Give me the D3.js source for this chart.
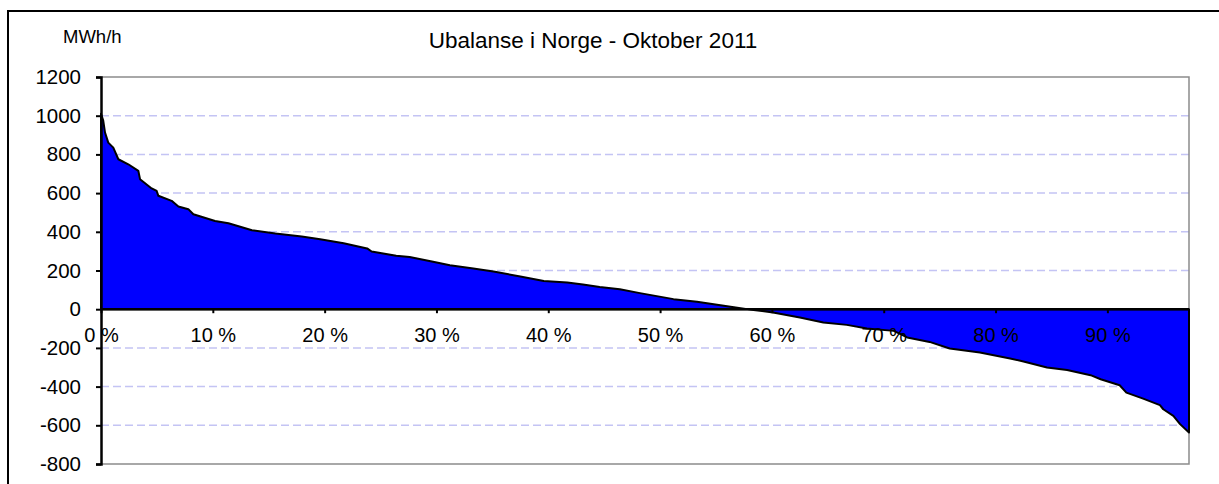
<!DOCTYPE html>
<html>
<head>
<meta charset="utf-8">
<script src="https://cdn.jsdelivr.net/npm/d3@7"></script>
<style>
  body { margin: 0; background: #fff; overflow: hidden; }
  svg { display: block; font-family: "Liberation Sans", Arial, sans-serif; }
</style>
</head>
<body>
<svg></svg>
<script>
var viewWidth = 1219;
var viewHeight = 484;

// percent of hours (sorted duration curve) and imbalance in MWh/h
var percent = [0, 0.2, 0.36, 0.65, 1.1, 1.55, 2.44, 3.34, 3.49, 4.53, 4.98, 5.13, 6.32, 6.92, 7.81, 8.26,
    10.2, 11.4, 13.5, 15.6, 17.95, 19.6, 21.7, 23.8, 24.2, 26.4, 27.6, 29.7, 31.2, 33.3, 35.1, 37.5,
    39.6, 41.7, 43.1, 44.6, 46.4, 48.2, 51.2, 53.3, 55.4, 57.8, 60.1, 62.5, 64.6, 66.7, 68.5, 70.9,
    72.1, 74.1, 75.9, 78.6, 81.3, 82.5, 84.6, 86.4, 88.5, 89.4, 91.1, 91.7, 93.2, 94.7, 95.0, 95.9,
    96.5, 97.3];
var imbalance = [1010, 975, 913, 861, 835, 775, 749, 715, 672, 624, 611, 586, 560, 531, 517, 491,
    456, 444, 408, 391, 376, 362, 341, 314, 298, 276, 270, 245, 227, 210, 195, 169,
    146, 138, 128, 115, 103, 83, 52, 38, 21, 0, -17, -43, -69, -81, -100, -112,
    -146, -169, -203, -224, -255, -270, -301, -314, -341, -362, -393, -431, -462, -496, -517, -551,
    -594, -637];
var xTicks = [0, 10, 20, 30, 40, 50, 60, 70, 80, 90];
var yTicks = [-800, -600, -400, -200, 0, 200, 400, 600, 800, 1000, 1200];

var plot = {left: 101, right: 1189, top: 77, bottom: 464};

var svg = d3.select("svg")
    .attr("width", viewWidth)
    .attr("height", viewHeight);

// outer chart border
svg.append("rect")
    .attr("x", 8)
    .attr("y", 11)
    .attr("width", 1230)
    .attr("height", 500)
    .style("fill", "none")
    .style("stroke", "#000")
    .style("stroke-width", 2);

var x = d3.scaleLinear()
    .domain([0, 97.3])
    .range([plot.left, plot.right]);

var y = d3.scaleLinear()
    .domain([-800, 1200])
    .range([plot.bottom, plot.top]);

// dashed gridlines
svg.selectAll("grid")
    .data(yTicks.filter(function(d) { return d > -800 && d < 1200 && d != 0; }))
    .enter()
    .append("line")
    .attr("x1", plot.left)
    .attr("x2", plot.right)
    .attr("y1", function(d) { return y(d); })
    .attr("y2", function(d) { return y(d); })
    .style("stroke", "#c4c4f4")
    .style("stroke-width", 1.5)
    .style("stroke-dasharray", "8,4");

// plot frame (grey top/right/bottom)
svg.append("path")
    .attr("d", "M" + plot.left + "," + y(1200) + "H" + x(97.3) + "V" + y(-800) + "H" + plot.left)
    .style("fill", "none")
    .style("stroke", "#8c8c8c")
    .style("stroke-width", 1.5);

var data = percent.map(function(p, i) { return {p: p, v: imbalance[i]}; });

var area = d3.area()
    .x(function(d) { return x(d.p); })
    .y0(y(0))
    .y1(function(d) { return y(d.v); });

svg.append("path")
    .datum(data)
    .attr("d", area)
    .style("fill", "#0000ff")
    .style("stroke", "#000")
    .style("stroke-width", 2)
    .style("stroke-linejoin", "round");

// y axis
var yAxis = svg.append("g")
    .attr("transform", "translate(" + plot.left + ",0)")
    .call(d3.axisLeft(y).tickValues(yTicks).tickSize(5).tickPadding(15).tickFormat(d3.format("d")));
yAxis.select(".domain").style("stroke-width", 2.5);
yAxis.selectAll(".tick line").style("stroke-width", 2);
yAxis.selectAll("text")
    .style("font-size", "20.5px")
    .style("fill", "#000")
    .text(function(d) { return d < 0 ? "-" + Math.abs(d) : d; });

// x axis on zero line
var xAxis = svg.append("g")
    .attr("transform", "translate(0," + y(0) + ")")
    .call(d3.axisBottom(x).tickValues(xTicks).tickSize(4).tickPadding(15).tickFormat(function(d) { return d + " %"; }));
xAxis.select(".domain").style("stroke-width", 2.5).attr("d", "M" + plot.left + ",0H" + plot.right);
xAxis.selectAll(".tick line").style("stroke-width", 2);
xAxis.selectAll("text")
    .style("font-size", "20px")
    .style("fill", "#000");

svg.append("text")
    .attr("x", 593)
    .attr("y", 48)
    .style("text-anchor", "middle")
    .style("font-size", "22.5px")
    .text("Ubalanse i Norge - Oktober 2011");

svg.append("text")
    .attr("x", 63)
    .attr("y", 43)
    .style("font-size", "18.5px")
    .text("MWh/h");
</script>
</body>
</html>
